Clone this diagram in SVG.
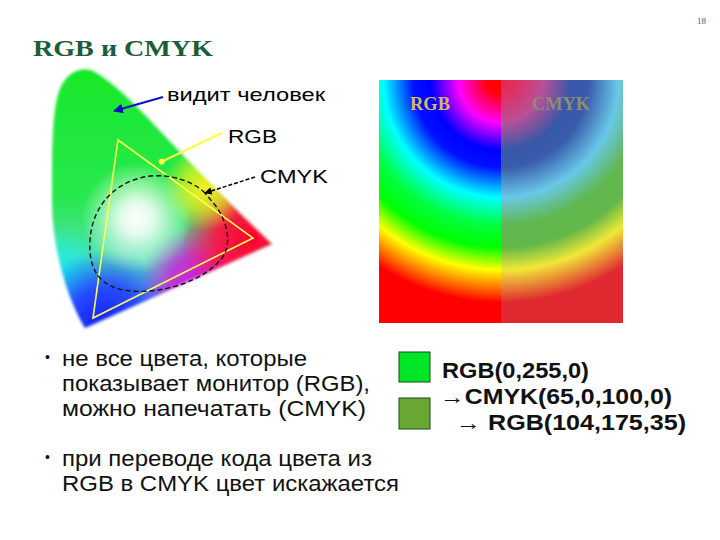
<svg xmlns="http://www.w3.org/2000/svg" width="720" height="540" viewBox="0 0 720 540">
<style>
.sans{font-family:"Liberation Sans",Arial,sans-serif}
.serif{font-family:"Liberation Serif","Times New Roman",serif}
.lbl{font-size:19px;fill:#000}
.bul{font-size:22px;fill:#111}
.code{font-size:22px;font-weight:bold;fill:#111}
</style>
<defs>
<clipPath id="gamutClip">
<path d="M 85,328 C 68,300 52,250 52,200 C 52,140 52,95 65,80 C 72,70 85,66 95,72 C 115,84 130,100 145,115 C 180,152 225,200 272,244 Z"/>
</clipPath>
<filter id="soft" x="-10%" y="-10%" width="120%" height="120%"><feGaussianBlur stdDeviation="1.6"/></filter>
<radialGradient id="gBlue" gradientUnits="userSpaceOnUse" cx="105" cy="325" r="75"><stop offset="0" stop-color="#1020ff"/><stop offset="0.5" stop-color="#2030ff" stop-opacity="0.8"/><stop offset="1" stop-color="#2040ff" stop-opacity="0"/></radialGradient>
<radialGradient id="gCyan" gradientUnits="userSpaceOnUse" cx="58" cy="275" r="50"><stop offset="0" stop-color="#10f0f0"/><stop offset="1" stop-color="#10f0f0" stop-opacity="0"/></radialGradient>
<radialGradient id="gMag" gradientUnits="userSpaceOnUse" cx="200" cy="285" r="60"><stop offset="0" stop-color="#d018e0"/><stop offset="0.5" stop-color="#d020d8" stop-opacity="0.85"/><stop offset="1" stop-color="#d020d8" stop-opacity="0"/></radialGradient>
<radialGradient id="gRed" gradientUnits="userSpaceOnUse" cx="252" cy="238" r="72"><stop offset="0" stop-color="#ff0030"/><stop offset="0.5" stop-color="#ff1040" stop-opacity="0.9"/><stop offset="1" stop-color="#ff1040" stop-opacity="0"/></radialGradient>
<radialGradient id="gYel" gradientUnits="userSpaceOnUse" cx="205" cy="188" r="42"><stop offset="0" stop-color="#f8f020"/><stop offset="0.5" stop-color="#f0f020" stop-opacity="0.7"/><stop offset="1" stop-color="#f8f020" stop-opacity="0"/></radialGradient>
<radialGradient id="gWhite" gradientUnits="userSpaceOnUse" cx="137" cy="218" r="55"><stop offset="0" stop-color="#ffffff"/><stop offset="0.3" stop-color="#ffffff" stop-opacity="0.85"/><stop offset="1" stop-color="#ffffff" stop-opacity="0"/></radialGradient>
<linearGradient id="gBase" x1="0" y1="70" x2="0" y2="330" gradientUnits="userSpaceOnUse"><stop offset="0" stop-color="#18e828"/><stop offset="0.5" stop-color="#28e850"/><stop offset="0.72" stop-color="#50e0b0"/><stop offset="0.9" stop-color="#40a0ff"/><stop offset="1" stop-color="#3050ff"/></linearGradient>
<radialGradient id="sqRGB" gradientUnits="userSpaceOnUse" cx="501" cy="80" r="250">
<stop offset="0" stop-color="#ff0000"/><stop offset="0.06" stop-color="#ff0010"/><stop offset="0.17" stop-color="#ff00ff"/><stop offset="0.28" stop-color="#0000ff"/><stop offset="0.35" stop-color="#0010ff"/><stop offset="0.47" stop-color="#00ffff"/><stop offset="0.58" stop-color="#00ff40"/><stop offset="0.67" stop-color="#00ff00"/><stop offset="0.76" stop-color="#ffff00"/><stop offset="0.89" stop-color="#ff0000"/><stop offset="1" stop-color="#ff0000"/>
</radialGradient>
<radialGradient id="sqCMYK" gradientUnits="userSpaceOnUse" cx="501" cy="80" r="250">
<stop offset="0" stop-color="#e02850"/><stop offset="0.06" stop-color="#e03060"/><stop offset="0.17" stop-color="#b85098"/><stop offset="0.28" stop-color="#3858a8"/><stop offset="0.35" stop-color="#3a5cac"/><stop offset="0.47" stop-color="#68c8e8"/><stop offset="0.58" stop-color="#60b850"/><stop offset="0.67" stop-color="#62b848"/><stop offset="0.76" stop-color="#f0e838"/><stop offset="0.89" stop-color="#e02830"/><stop offset="1" stop-color="#e02830"/>
</radialGradient>
<marker id="arrBlue" viewBox="0 0 10 10" refX="9" refY="5" markerWidth="5" markerHeight="5" orient="auto"><path d="M0,0 L10,5 L0,10 Z" fill="#0a10c8"/></marker>
<marker id="arrYel" viewBox="0 0 10 10" refX="6" refY="5" markerWidth="3" markerHeight="3" orient="auto"><circle cx="5" cy="5" r="5" fill="#ffff40"/></marker>
<marker id="arrBlk" viewBox="0 0 10 10" refX="9" refY="5" markerWidth="5" markerHeight="5" orient="auto"><path d="M0,0 L10,5 L0,10 Z" fill="#000"/></marker>
</defs>
<rect x="0" y="0" width="720" height="540" fill="#ffffff"/>

<g id="page-number"><text x="697" y="24" class="serif" font-size="9" fill="#555">18</text></g>

<g id="title"><text x="33" y="56" class="serif" font-size="23" font-weight="bold" fill="#1b5c3b" textLength="180" lengthAdjust="spacingAndGlyphs">RGB и CMYK</text></g>

<g id="gamut">
<g filter="url(#soft)">
<g clip-path="url(#gamutClip)">
<rect x="40" y="60" width="240" height="280" fill="url(#gBase)"/>
<rect x="40" y="60" width="240" height="280" fill="url(#gCyan)"/>
<rect x="40" y="60" width="240" height="280" fill="url(#gBlue)"/>
<rect x="40" y="60" width="240" height="280" fill="url(#gMag)"/>
<rect x="40" y="60" width="240" height="280" fill="url(#gRed)"/>
<rect x="40" y="60" width="240" height="280" fill="url(#gYel)"/>
<rect x="40" y="60" width="240" height="280" fill="url(#gWhite)"/>
</g>
</g>
<polygon id="rgb-triangle" points="118,140 253,238 93,318" fill="none" stroke="#ffff50" stroke-width="1.6"/>
<path id="cmyk-gamut" d="M 205,193 C 190,178 160,172 140,178 C 110,186 92,210 90,240 C 88,270 100,288 130,291 C 165,294 205,280 222,258 C 232,245 228,222 215,205 Z" fill="none" stroke="#111" stroke-width="1.4" stroke-dasharray="5,3"/>
</g>

<g id="labels">
<text id="lbl-human" x="167" y="101" class="sans lbl" textLength="158" lengthAdjust="spacingAndGlyphs">видит человек</text>
<text id="lbl-rgb" x="228" y="143" class="sans lbl" textLength="49" lengthAdjust="spacingAndGlyphs">RGB</text>
<text id="lbl-cmyk" x="260" y="183" class="sans lbl" textLength="68" lengthAdjust="spacingAndGlyphs">CMYK</text>
</g>

<g id="connectors">
<line x1="163" y1="97" x2="114" y2="111" stroke="#0a10c8" stroke-width="2" marker-end="url(#arrBlue)"/>
<line x1="222" y1="133" x2="161" y2="162" stroke="#ffff40" stroke-width="2" marker-end="url(#arrYel)"/>
<line x1="255" y1="177" x2="205" y2="193" stroke="#000" stroke-width="1.5" stroke-dasharray="4,2" marker-end="url(#arrBlk)"/>
</g>

<g id="color-square">
<rect x="379" y="80" width="122" height="243" fill="url(#sqRGB)"/>
<rect x="501" y="80" width="122" height="243" fill="url(#sqCMYK)"/>
<text x="410" y="110" class="serif" font-size="18" font-weight="bold" fill="#d8b860" textLength="40" lengthAdjust="spacingAndGlyphs">RGB</text>
<text x="532" y="110" class="serif" font-size="18" font-weight="bold" fill="#8c8c70" textLength="58" lengthAdjust="spacingAndGlyphs">CMYK</text>
</g>

<g id="bullets">
<text x="45" y="362" class="sans" font-size="14" fill="#111">•</text>
<text x="62" y="366" class="sans bul" textLength="245" lengthAdjust="spacingAndGlyphs">не все цвета, которые</text>
<text x="62" y="391" class="sans bul" textLength="308" lengthAdjust="spacingAndGlyphs">показывает монитор (RGB),</text>
<text x="62" y="416" class="sans bul" textLength="304" lengthAdjust="spacingAndGlyphs">можно напечатать (CMYK)</text>
<text x="45" y="462" class="sans" font-size="14" fill="#111">•</text>
<text x="62" y="466" class="sans bul" textLength="310" lengthAdjust="spacingAndGlyphs">при переводе кода цвета из</text>
<text x="62" y="491" class="sans bul" textLength="337" lengthAdjust="spacingAndGlyphs">RGB в CMYK цвет искажается</text>
</g>

<g id="swatch-rgb"><rect x="399" y="352" width="31" height="30" fill="#00e626" stroke="#1a4a1a" stroke-width="1"/></g>
<g id="swatch-cmyk"><rect x="399" y="398" width="31" height="31" fill="#68a832" stroke="#1a4a1a" stroke-width="1"/></g>

<g id="codes">
<text x="442" y="378" class="sans code" textLength="147" lengthAdjust="spacingAndGlyphs">RGB(0,255,0)</text>
<text x="440" y="404" class="sans code" textLength="232" lengthAdjust="spacingAndGlyphs">→CMYK(65,0,100,0)</text>
<text x="456" y="430" class="sans code" textLength="230" lengthAdjust="spacingAndGlyphs">→ RGB(104,175,35)</text>
</g>
</svg>
